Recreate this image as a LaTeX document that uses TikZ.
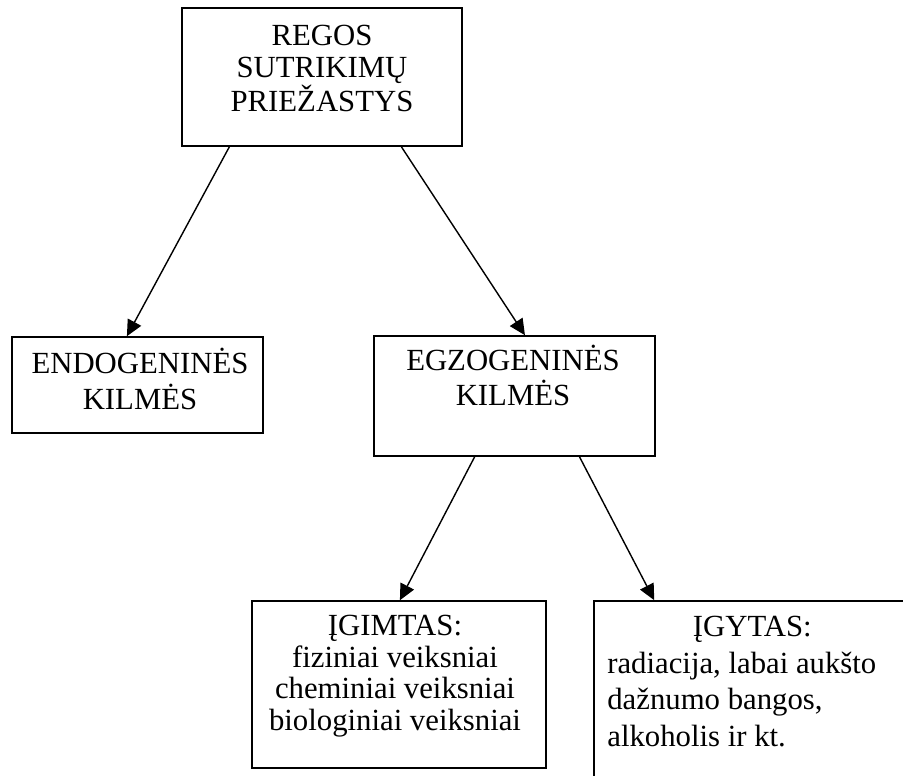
\documentclass[tikz,border=0pt]{standalone}
\usepackage{fontspec}
\setmainfont{Liberation Serif}
\usetikzlibrary{arrows.meta, calc}

\begin{document}
\begin{tikzpicture}[x=0.02cm, y=-0.02cm, >={Triangle[length=0.32cm,width=0.3cm]},
    box/.style={draw, line width=0.9pt, inner sep=0pt},
    txt/.style={inner sep=0pt, align=center, font={\fontsize{17.5}{#1}\selectfont}},
    link/.style={->, line width=0.8pt}]
  \useasboundingbox (0,0) rectangle (903,775);
  \clip (0,0) rectangle (903,775);
  % boxes
  \node[box, minimum width=5.6cm, minimum height=2.76cm] (top) at (322,77) {};
  \node[box, minimum width=5.02cm, minimum height=1.92cm] (endo) at (137.5,385) {};
  \node[box, minimum width=5.62cm, minimum height=2.4cm] (egzo) at (514.5,396) {};
  \node[box, minimum width=5.88cm, minimum height=3.34cm] (igimt) at (399,684.5) {};
  \node[box, minimum width=6.8cm, minimum height=4cm] (igyt) at (764,701) {};
  % texts
  \node[txt=18.2pt, anchor=north] (toptext) at (322,25) {REGOS\\SUTRIKIMŲ\\PRIEŽASTYS};
  \node[txt=20.4pt, anchor=north] (endotext) at (140,348) {ENDOGENINĖS\\KILMĖS};
  \node[txt=19.8pt, anchor=north] (egzotext) at (513,345) {EGZOGENINĖS\\KILMĖS};
  \node[txt=18pt, anchor=north] (igimttext) at (395,615)
    {ĮGIMTAS:\\fiziniai veiksniai\\cheminiai veiksniai\\biologiniai veiksniai};
  \node[txt=20.8pt, anchor=north west, align=flush left, text width=5.8cm] (igyttext) at (607,616)
    {\makebox[5.8cm]{ĮGYTAS:}\\radiacija, labai aukšto\\dažnumo bangos,\\alkoholis ir kt.};
  % arrows
  \draw[link] ($(top.south west)!0.171!(top.south east)$) -- ($(endo.north west)!0.458!(endo.north east)$);
  \draw[link] ($(top.south west)!0.782!(top.south east)$) -- ($(egzo.north west)!0.537!(egzo.north east)$);
  \draw[link] ($(egzo.south west)!0.359!(egzo.south east)$) -- ($(igimt.north west)!0.503!(igimt.north east)$);
  \draw[link] ($(egzo.south west)!0.730!(egzo.south east)$) -- ([xshift=1.22cm]igyt.north west);
\end{tikzpicture}
\end{document}
